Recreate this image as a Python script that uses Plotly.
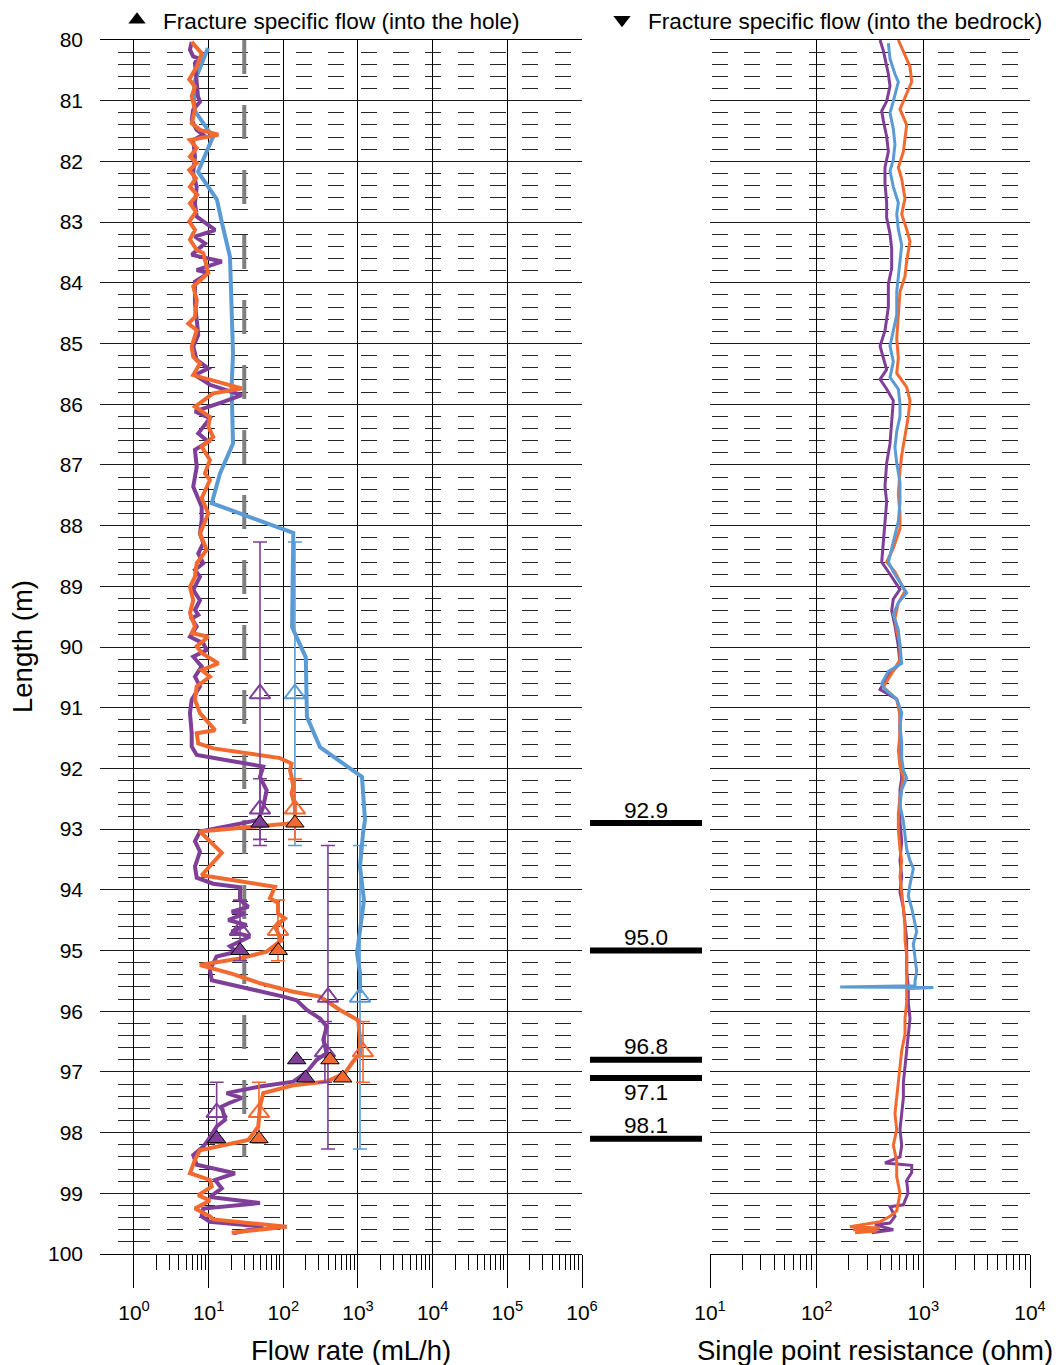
import plotly.graph_objects as go

# ------------------------------------------------------------------ data
# Flow profile (left panel): depth (m) and flow rate (mL/h)
blue_flow_depth = [80.13, 80.70, 81.15, 81.60, 82.17, 82.63, 83.00, 83.57, 85.16, 85.71, 86.65, 87.14,
                   87.63, 88.12, 89.67, 90.17, 91.15, 91.65, 92.14, 92.85, 93.07, 93.62, 94.17, 94.71,
                   95.04, 95.37, 95.70]
blue_flow = [9.8, 6.4, 6.4, 11.4, 7.2, 12.9, 15.0, 19.3, 21.2, 20.3, 21.2, 14.2,
             11.0, 136, 131, 200, 207, 310, 1131, 1241, 1167, 1064, 1203, 1064,
             970, 1064, 1064]

purple_flow_depth = [80.03, 80.16, 80.27, 80.30, 80.38, 80.66, 80.93, 81.02, 81.15, 81.32, 81.48, 81.56,
                     81.65, 81.92, 82.19, 82.42, 82.69, 82.91, 83.13, 83.24, 83.35, 83.54, 83.65, 83.79,
                     83.84, 83.98, 84.34, 84.61, 84.86, 85.05, 85.27, 85.41, 85.52, 85.68, 85.85, 85.96,
                     86.12, 86.23, 86.48, 86.62, 86.75, 87.03, 87.36, 87.69, 87.91, 88.13, 88.29, 88.46,
                     88.62, 88.73, 88.84, 89.06, 89.23, 89.39, 89.47, 89.53, 89.66, 89.83, 89.94, 90.05,
                     90.16, 90.32, 90.49, 90.65, 90.87, 91.09, 91.42, 91.64, 91.78, 91.97, 92.14, 92.36,
                     92.63, 92.85, 93.04, 93.20, 93.37, 93.62, 93.80, 93.90, 93.96, 94.17, 94.28, 94.36,
                     94.39, 94.50, 94.58, 94.69, 94.77, 94.93, 95.02, 95.10, 95.32, 95.49, 95.65, 95.76,
                     95.82, 95.98, 96.12, 96.25, 96.47, 96.69, 96.80, 97.00, 97.16, 97.24, 97.35, 97.43,
                     97.52, 97.57, 97.79, 97.90, 98.12, 98.23, 98.37, 98.53, 98.67, 98.78, 98.92, 99.06,
                     99.16, 99.25, 99.38, 99.47, 99.55, 99.66]
purple_flow = [5.93, 5.62, 6.2, 7.2, 6.56, 6.92, 7.2, 7.65, 6.2, 5.93, 6.92, 8.4,
               6.2, 6.56, 6.2, 6.92, 6.56, 6.92, 12.2, 6.56, 8.93, 5.93, 15.0, 6.92,
               9.89, 6.56, 6.56, 6.92, 7.26, 6.22, 6.92, 9.89, 6.56, 10.4, 27.7, 15.7,
               6.56, 10.4, 7.26, 9.89, 6.56, 6.92, 6.22, 8.07, 8.07, 7.65, 8.47, 7.26,
               8.47, 6.56, 7.65, 6.22, 7.65, 6.56, 7.26, 5.93, 6.92, 5.62, 8.47, 9.41,
               6.22, 8.07, 6.56, 7.65, 5.93, 5.62, 5.93, 5.93, 6.92, 53.9, 48.7, 59.8,
               53.9, 46.2, 7.65, 6.56, 7.65, 6.56, 6.92, 11.5, 26.3, 26.3, 34.0, 20.3,
               30.7, 18.3, 32.3, 20.3, 35.8, 19.3, 23.7, 12.8, 10.4, 11.0, 44.0, 99.8,
               151, 206, 310, 381, 343, 381, 280, 206, 136, 48.7, 17.4, 27.7,
               18.3, 15.0, 16.6, 12.8, 9.89, 8.47, 6.22, 6.92, 22.5, 12.2, 15.0, 10.4,
               48.7, 8.47, 8.07, 10.4, 53.9, 21.4]

orange_flow_depth = [80.03, 80.22, 80.44, 80.65, 80.77, 80.93, 81.15, 81.37, 81.48, 81.56, 81.65, 81.78,
                     81.92, 82.03, 82.14, 82.28, 82.42, 82.55, 82.69, 82.83, 82.99, 83.13, 83.29, 83.46,
                     83.51, 83.84, 84.06, 84.28, 84.56, 84.67, 84.78, 85.05, 85.22, 85.33, 85.52, 85.60,
                     85.74, 85.82, 86.04, 86.21, 86.37, 86.54, 86.70, 86.92, 87.14, 87.25, 87.55, 87.80,
                     88.13, 88.40, 88.62, 88.84, 89.01, 89.23, 89.44, 89.66, 89.77, 89.83, 89.99, 90.10,
                     90.27, 90.38, 90.49, 90.65, 90.87, 91.09, 91.37, 91.42, 91.59, 91.67, 91.83, 91.92,
                     92.03, 92.14, 92.30, 92.41, 92.63, 92.90, 93.04, 93.39, 93.76, 93.95, 94.14, 94.22,
                     94.39, 94.47, 94.61, 94.83, 95.02, 95.13, 95.24, 95.38, 95.54, 95.68, 95.76, 95.98,
                     96.15, 96.47, 96.70, 96.83, 97.02, 97.16, 97.22, 97.35, 97.57, 97.90, 98.12, 98.29,
                     98.45, 98.67, 98.78, 98.89, 99.03, 99.12, 99.25, 99.38, 99.43, 99.55, 99.63, 99.65]
orange_flow = [5.93, 8.07, 6.92, 5.5, 6.56, 5.93, 6.56, 5.93, 7.65, 13.5, 5.62, 6.92,
               5.62, 6.92, 5.5, 6.77, 5.62, 7.04, 5.62, 6.77, 5.5, 6.56, 5.62, 6.92,
               8.47, 9.89, 6.22, 6.92, 6.56, 5.34, 6.92, 5.93, 6.22, 7.65, 6.22, 10.4,
               27.7, 11.5, 6.56, 10.4, 9.89, 11.5, 8.07, 10.4, 8.93, 10.4, 8.07, 9.89,
               7.65, 9.41, 6.92, 6.56, 5.62, 6.22, 5.62, 6.56, 5.93, 9.89, 6.92, 8.07,
               13.5, 8.07, 10.4, 6.92, 6.56, 7.65, 12.2, 6.92, 7.26, 11.5, 90.2, 129,
               123, 129, 136, 129, 143, 143, 7.65, 15.0, 8.07, 77.3, 66.3, 84.8,
               85.0, 105, 77.3, 95.1, 59.8, 26.3, 7.65, 20.3, 48.7, 136, 310, 574,
               1009, 1064, 1064, 857, 670, 381, 136, 53.9, 48.7, 46.2, 34.0, 7.65,
               6.56, 5.62, 10.4, 11.0, 7.26, 10.4, 6.56, 10.4, 11.5, 111, 23.7, 20.3]

# Section flows (open triangles, error bar = section half length in m)
blue_sec_depth = [90.77, 95.77]
blue_sec_flow = [143, 1064]
blue_sec_half = [2.5, 2.5]
purple_sec_depth = [90.77, 92.67, 94.67, 95.77, 96.67, 97.67]
purple_sec_flow = [48.7, 48.7, 26.3, 396, 361, 12.8]
purple_sec_half = [2.5, 0.5, 0.5, 2.5, 0.5, 0.5]
orange_sec_depth = [92.67, 94.67, 96.67, 97.67]
orange_sec_flow = [143, 84.8, 1167, 47.2]
orange_sec_half = [0.5, 0.5, 0.5, 0.5]

# Fracture specific flows (solid triangles)
fracture_depths = [92.9, 95.0, 96.8, 97.1, 98.1]
purple_frac_flow = [48.7, 26.3, 151, 199, 12.8]
orange_frac_flow = [143, 85.7, 422, 624, 47.2]

# Lower measurement limit line
limit_flow = 30
limit_depth = [80.0, 98.4]

# Single point resistance (right panel), ohm
purple_spr_depth = [80.00, 80.18, 80.56, 80.76, 81.01, 81.17, 81.33, 81.59, 81.84, 82.10, 82.36, 82.68,
                    82.93, 83.19, 83.44, 83.76, 84.02, 84.40, 84.79, 85.04, 85.24, 85.43, 85.59, 85.75,
                    85.94, 86.33, 86.65, 86.97, 87.35, 87.61, 87.99, 88.31, 88.60, 88.76, 89.05, 89.21,
                    89.40, 89.65, 89.96, 90.27, 90.47, 90.70, 90.86, 91.05, 91.38, 91.83, 92.16, 92.35,
                    92.87, 93.20, 93.52, 93.78, 94.04, 94.30, 94.56, 94.82, 95.08, 95.34, 95.60, 95.86,
                    96.12, 96.38, 96.65, 96.90, 97.17, 97.43, 97.69, 97.95, 98.21, 98.40, 98.50, 98.54,
                    98.66, 98.79, 99.00, 99.19, 99.22, 99.38, 99.49, 99.52, 99.60, 99.65]
purple_spr = [393, 422, 470, 487, 453, 407, 422, 453, 470, 437, 437, 453,
              453, 487, 505, 505, 470, 470, 437, 393, 422, 453, 393, 453,
              523, 505, 487, 453, 437, 453, 437, 422, 407, 470, 604, 523,
              505, 542, 580, 604, 470, 393, 563, 604, 604, 604, 627, 604,
              604, 627, 604, 627, 604, 650, 673, 698, 698, 698, 723, 723,
              750, 723, 698, 673, 650, 650, 627, 604, 627, 604, 437, 778,
              778, 698, 718, 649, 487, 542, 487, 352, 523, 328]

orange_spr_depth = [80.00, 80.24, 80.44, 80.69, 80.88, 81.14, 81.40, 81.65, 81.84, 82.10, 82.29, 82.61,
                    82.87, 83.12, 83.32, 83.64, 83.89, 84.15, 84.53, 84.92, 85.24, 85.49, 85.72, 85.94,
                    86.20, 86.52, 86.84, 87.09, 87.48, 87.80, 88.05, 88.37, 88.60, 88.76, 89.08, 89.27,
                    89.53, 89.72, 89.96, 90.21, 90.66, 90.86, 91.12, 91.44, 91.70, 91.96, 92.16, 92.48,
                    92.74, 93.00, 93.33, 93.52, 93.78, 94.04, 94.30, 94.56, 94.82, 95.08, 95.34, 95.60,
                    95.86, 96.12, 96.38, 96.65, 96.90, 97.17, 97.43, 97.69, 97.95, 98.21, 98.47, 98.73,
                    99.00, 99.29, 99.38, 99.47, 99.55, 99.57, 99.60, 99.62, 99.65]
orange_spr = [583, 673, 750, 778, 698, 604, 698, 673, 650, 583, 627, 673,
              627, 698, 750, 698, 673, 604, 583, 563, 583, 563, 698, 750,
              723, 673, 627, 604, 583, 604, 604, 523, 453, 542, 673, 583,
              542, 563, 604, 604, 422, 563, 604, 604, 583, 604, 650, 604,
              583, 583, 604, 627, 604, 627, 650, 673, 673, 698, 698, 698,
              698, 673, 673, 627, 604, 583, 563, 542, 563, 523, 563, 563,
              604, 563, 487, 393, 205, 393, 221, 365, 229]

blue_spr_depth = [80.05, 80.31, 80.56, 80.69, 81.01, 81.20, 81.46, 81.72, 81.97, 82.16, 82.42, 82.68,
                  82.87, 83.12, 83.38, 83.64, 83.89, 84.15, 84.53, 84.79, 85.04, 85.30, 85.56, 85.75,
                  86.00, 86.20, 86.45, 86.71, 86.97, 87.29, 87.61, 87.93, 88.25, 88.60, 88.76, 89.11,
                  89.27, 89.46, 89.72, 90.00, 90.27, 90.40, 90.60, 90.70, 90.86, 91.08, 91.31, 91.57,
                  91.83, 92.03, 92.16, 92.35, 92.61, 92.87, 93.13, 93.33, 93.52, 93.65, 93.91, 94.11,
                  94.30, 94.69, 94.89, 95.08, 95.34, 95.50, 95.58, 95.60, 95.61, 95.63]
blue_spr = [470, 487, 542, 583, 523, 487, 523, 542, 523, 487, 523, 583,
            563, 583, 627, 604, 583, 563, 563, 523, 487, 523, 487, 583,
            604, 604, 563, 542, 563, 604, 604, 583, 523, 470, 523, 698,
            583, 523, 583, 604, 627, 470, 407, 437, 563, 627, 604, 627,
            627, 650, 698, 627, 604, 650, 673, 698, 750, 806, 750, 723,
            778, 866, 806, 836, 866, 836, 836, 166, 1242, 698]

# Axis ticks
flow_ticks = [1, 10, 100, 1000, 10000, 100000, 1000000]
flow_tick_labels = ["10<sup>0</sup>", "10<sup>1</sup>", "10<sup>2</sup>", "10<sup>3</sup>",
                    "10<sup>4</sup>", "10<sup>5</sup>", "10<sup>6</sup>"]
spr_ticks = [10, 100, 1000, 10000]
spr_tick_labels = ["10<sup>1</sup>", "10<sup>2</sup>", "10<sup>3</sup>", "10<sup>4</sup>"]

# ------------------------------------------------------------------ style
PURPLE = "#7f3f98"
ORANGE = "#f26a30"
BLUE = "#5b9bd5"
FONT = "Liberation Sans, Arial, sans-serif"
W, H = 1061, 1365

def minor_vals(decades):
    return [m * 10 ** d for d in decades for m in range(2, 10)]

def dash_from_segments(segs, total):
    parts = [0]
    pos = 0
    for s, e in segs:
        parts.append(s - pos)
        parts.append(e - s)
        pos = e
    parts.append(total - pos + 50)
    return ",".join(f"{p}px" for p in parts)

left_segs = [(18, 50)] + [(round(67 + 32.3 * k), round(67 + 32.3 * k) + 16) for k in range(13)]
right_segs = [(round(1.7 + 32.3 * k), round(1.7 + 32.3 * k) + 16) for k in range(10)]
left_dash = dash_from_segments(left_segs, 482)
right_dash = dash_from_segments(right_segs, 320)

fig = go.Figure()

# ---- left panel
fig.add_trace(go.Scatter(x=[limit_flow] * len(limit_depth), y=limit_depth, mode="lines",
                         line=dict(color="#7f7f7f", width=4, dash="34px,31px"),
                         showlegend=False, hoverinfo="skip", xaxis="x", yaxis="y"))
fig.add_trace(go.Scatter(x=blue_flow, y=blue_flow_depth, mode="lines",
                         line=dict(color=BLUE, width=4), showlegend=False, xaxis="x", yaxis="y"))
fig.add_trace(go.Scatter(x=purple_flow, y=purple_flow_depth, mode="lines",
                         line=dict(color=PURPLE, width=4), showlegend=False, xaxis="x", yaxis="y"))
fig.add_trace(go.Scatter(x=orange_flow, y=orange_flow_depth, mode="lines",
                         line=dict(color=ORANGE, width=4), showlegend=False, xaxis="x", yaxis="y"))

for col, sd, sf, sh in [(BLUE, blue_sec_depth, blue_sec_flow, blue_sec_half),
                        (PURPLE, purple_sec_depth, purple_sec_flow, purple_sec_half),
                        (ORANGE, orange_sec_depth, orange_sec_flow, orange_sec_half)]:
    fig.add_trace(go.Scatter(x=sf, y=sd, mode="markers",
                             marker=dict(symbol="triangle-up-open", size=18, color=col,
                                         line=dict(width=2, color=col)),
                             error_y=dict(type="data", array=sh, symmetric=True, color=col,
                                          thickness=1.6, width=7),
                             showlegend=False, xaxis="x", yaxis="y"))

for col, ff in [(PURPLE, purple_frac_flow), (ORANGE, orange_frac_flow)]:
    fig.add_trace(go.Scatter(x=ff, y=fracture_depths, mode="markers",
                             marker=dict(symbol="triangle-up", size=16, color=col,
                                         line=dict(width=1, color="black")),
                             showlegend=False, xaxis="x", yaxis="y"))

# legend entries
fig.add_trace(go.Scatter(x=[None], y=[None], mode="markers", name="Fracture specific flow (into the hole)",
                         marker=dict(symbol="triangle-up", size=15, color="black"),
                         legend="legend", xaxis="x", yaxis="y"))
fig.add_trace(go.Scatter(x=[None], y=[None], mode="markers", name="Fracture specific flow (into the bedrock)",
                         marker=dict(symbol="triangle-down", size=15, color="black"),
                         legend="legend2", xaxis="x", yaxis="y"))

# ---- middle: fracture bars
bx, by = [], []
for d in fracture_depths:
    bx += [0, 1, None]
    by += [d, d, None]
fig.add_trace(go.Scatter(x=bx, y=by, mode="lines", line=dict(color="black", width=6),
                         showlegend=False, xaxis="x3", yaxis="y3"))

# ---- right panel
for col, sv, sd in [(PURPLE, purple_spr, purple_spr_depth),
                    (ORANGE, orange_spr, orange_spr_depth),
                    (BLUE, blue_spr, blue_spr_depth)]:
    fig.add_trace(go.Scatter(x=sv, y=sd, mode="lines", line=dict(color=col, width=3),
                             showlegend=False, xaxis="x2", yaxis="y2"))

# ------------------------------------------------------------------ layout
ydom = [1 - 1254 / H, 1 - 40 / H]
common_x = dict(type="log", showgrid=True, gridcolor="black", gridwidth=1, zeroline=False,
                ticks="outside", ticklen=33, tickwidth=1, tickcolor="black",
                showline=True, mirror=True, linecolor="black", linewidth=1, automargin=False,
                tickfont=dict(family=FONT, size=21, color="black"), ticklabelstandoff=7)
common_y = dict(range=[100, 80], tickmode="linear", tick0=80, dtick=1, showgrid=True,
                gridcolor="#1a1a1a", gridwidth=1, zeroline=False, showline=False, ticks="",
                automargin=False)

fig.update_layout(
    width=W, height=H, autosize=False, margin=dict(l=0, r=0, t=0, b=0, pad=0, autoexpand=False),
    paper_bgcolor="white", plot_bgcolor="white",
    font=dict(family=FONT, color="black"),
    xaxis=dict(common_x, domain=[100 / W, 582 / W], range=[-0.455, 6], anchor="y",
               tickvals=flow_ticks, ticktext=flow_tick_labels,
               minor=dict(tickvals=minor_vals(range(0, 6)), ticks="outside", ticklen=15,
                          tickcolor="black", tickwidth=1, showgrid=False)),
    yaxis=dict(common_y, domain=ydom, anchor="x",
               tickfont=dict(family=FONT, size=21, color="black"), ticklabelstandoff=16,
               minor=dict(dtick=0.2, tick0=80, showgrid=True, gridcolor="#262626", gridwidth=1,
                          griddash=left_dash, ticks="")),
    xaxis2=dict(common_x, domain=[710 / W, 1030 / W], range=[1, 4], anchor="y2",
                tickvals=spr_ticks, ticktext=spr_tick_labels,
                minor=dict(tickvals=minor_vals(range(1, 4)), ticks="outside", ticklen=15,
                           tickcolor="black", tickwidth=1, showgrid=False)),
    yaxis2=dict(common_y, domain=ydom, anchor="x2", matches="y", showticklabels=False,
                minor=dict(dtick=0.2, tick0=80, showgrid=True, gridcolor="#262626", gridwidth=1,
                           griddash=right_dash, ticks="")),
    xaxis3=dict(domain=[590 / W, 702 / W], range=[0, 1], anchor="y3", visible=False),
    yaxis3=dict(domain=ydom, range=[100, 80], anchor="x3", matches="y", visible=False),
    legend=dict(x=(137 - 26) / W, xanchor="left", y=1 - 20 / H, yanchor="middle",
                bgcolor="rgba(0,0,0,0)", borderwidth=0, itemwidth=42,
                font=dict(family=FONT, size=22.6, color="black")),
    legend2=dict(x=(622 - 26) / W, xanchor="left", y=1 - 20 / H, yanchor="middle",
                 bgcolor="rgba(0,0,0,0)", borderwidth=0, itemwidth=42,
                 font=dict(family=FONT, size=22.6, color="black")),
    showlegend=True,
)

annotations = []
for d in fracture_depths:
    below = any(0 < d - o < 0.5 for o in fracture_depths)
    annotations.append(dict(x=0.5, y=d, xref="x3", yref="y3", text=f"{d:.1f}", showarrow=False,
                            xanchor="center", yanchor="middle",
                            yshift=-15 if below else 13,
                            font=dict(family=FONT, size=22.6, color="black")))
annotations.append(dict(x=351 / W, y=1 - 1350 / H, xref="paper", yref="paper", text="Flow rate (mL/h)",
                        xanchor="center", yanchor="middle",
                        showarrow=False, font=dict(family=FONT, size=27.5, color="black")))
annotations.append(dict(x=875 / W, y=1 - 1350 / H, xref="paper", yref="paper",
                        text="Single point resistance (ohm)", xanchor="center", yanchor="middle",
                        showarrow=False, font=dict(family=FONT, size=27.5, color="black")))
annotations.append(dict(x=22 / W, y=1 - 647 / H, xref="paper", yref="paper", text="Length (m)",
                        xanchor="center", yanchor="middle",
                        textangle=-90, showarrow=False, font=dict(family=FONT, size=27.5, color="black")))
fig.update_layout(annotations=annotations)

fig.write_html("out.html", config={"displayModeBar": False},
               post_script="document.documentElement.style.overflow='hidden';"
                           "document.body.style.margin='0';document.body.style.overflow='hidden';")
